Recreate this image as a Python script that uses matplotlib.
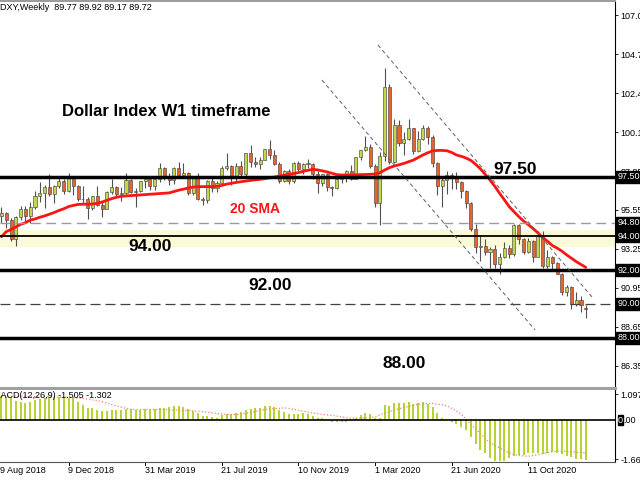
import numpy as np
import matplotlib
matplotlib.use('Agg')
import matplotlib.pyplot as plt
from matplotlib.lines import Line2D
import matplotlib.transforms as mtrans

plt.rcParams['font.family'] = ['Liberation Sans', 'DejaVu Sans']

# ---------------- data (weekly DXY, index 0 = week of 2 Sep 2018) ----------------
opens = [95.17, 95.39, 94.93, 93.84, 95.13, 95.61, 95.21, 95.71, 96.37, 96.53,
         96.91, 96.48, 96.95, 97.27, 96.66, 97.45, 96.96, 96.17, 96.19, 95.64,
         96.36, 95.83, 95.58, 96.63, 96.90, 96.52, 96.53, 97.31, 96.60, 96.66,
         97.28, 97.39, 96.95, 97.36, 98.02, 97.48, 97.33, 98.03, 97.62, 97.75,
         96.53, 97.56, 96.21, 96.13, 97.28, 96.82, 97.15, 98.01, 98.15, 97.50,
         98.15, 97.66, 98.92, 98.40, 98.29, 98.53, 99.13, 98.80, 98.29, 97.28,
         97.83, 97.24, 98.35, 97.98, 98.27, 98.27, 97.67, 97.17, 97.69, 96.91,
         96.84, 97.36, 97.61, 97.87, 97.39, 98.69, 99.09, 99.26, 98.13, 95.97,
         98.75, 102.82, 98.36, 100.58, 99.49, 99.76, 100.37, 99.05, 99.74, 100.39,
         99.86, 98.34, 96.94, 97.33, 97.61, 97.43, 97.18, 96.65, 95.95, 94.44,
         93.35, 93.40, 93.09, 93.23, 92.37, 92.80, 93.33, 92.93, 94.64, 93.84,
         93.06, 93.69, 92.77, 94.04, 92.23, 92.76, 92.39, 91.79, 90.70, 90.98,
         90.02, 90.24, 89.77]
highs = [95.74, 95.45, 95.10, 95.20, 95.78, 95.80, 96.03, 96.67, 97.20, 97.05,
         97.69, 97.05, 97.53, 97.40, 97.71, 97.47, 97.00, 96.95, 96.30, 96.40,
         96.96, 96.04, 96.66, 97.37, 96.95, 96.88, 97.71, 97.39, 96.82, 97.29,
         97.40, 97.49, 97.48, 98.33, 98.08, 97.76, 98.10, 98.37, 98.30, 97.78,
         97.58, 97.71, 96.32, 97.31, 97.58, 97.24, 98.13, 98.93, 98.18, 98.32,
         98.45, 98.93, 99.37, 98.70, 98.71, 99.15, 99.67, 99.12, 98.40, 97.90,
         98.00, 98.39, 98.45, 98.35, 98.55, 98.33, 97.86, 97.70, 97.72, 96.95,
         97.44, 97.67, 97.91, 98.19, 98.69, 99.09, 99.91, 99.45, 98.29, 98.95,
         103.96, 102.99, 100.93, 100.86, 100.18, 100.93, 100.40, 100.20, 100.56, 100.50,
         99.98, 98.36, 97.46, 97.85, 97.75, 97.81, 97.25, 96.74, 96.00, 94.75,
         93.99, 93.81, 93.36, 93.50, 93.00, 93.66, 93.50, 94.74, 94.75, 93.90,
         93.90, 93.76, 94.30, 94.30, 93.21, 92.85, 92.49, 91.84, 91.14, 91.05,
         90.72, 90.48, 89.92]
lows = [94.78, 94.50, 93.70, 93.42, 94.98, 94.87, 94.79, 95.61, 96.00, 95.68,
        96.35, 95.98, 96.86, 96.50, 96.60, 96.42, 96.06, 95.93, 95.03, 95.53,
        95.76, 95.16, 95.58, 96.47, 96.35, 96.07, 96.52, 96.54, 95.74, 96.59,
        96.86, 96.75, 96.75, 97.20, 97.33, 97.03, 97.11, 97.51, 97.59, 96.46,
        96.46, 96.15, 95.84, 95.96, 96.64, 96.64, 97.08, 97.92, 97.05, 97.20,
        97.50, 97.57, 98.07, 98.07, 98.00, 98.48, 98.58, 98.22, 97.12, 97.19,
        97.07, 97.15, 97.80, 97.68, 98.03, 97.37, 96.58, 96.99, 96.66, 96.36,
        96.80, 97.12, 97.22, 97.31, 97.36, 98.50, 99.01, 98.03, 95.73, 94.65,
        98.46, 98.27, 98.31, 99.35, 98.81, 99.66, 98.88, 99.00, 99.70, 99.45,
        98.08, 96.42, 95.71, 96.50, 96.80, 96.80, 96.23, 95.65, 94.33, 92.99,
        92.52, 92.90, 92.13, 92.12, 91.75, 92.70, 92.70, 92.85, 93.54, 92.97,
        92.98, 92.47, 92.75, 92.13, 92.13, 92.03, 91.75, 90.53, 90.47, 89.72,
        89.85, 89.52, 89.17]
closes = [95.39, 94.93, 93.84, 95.13, 95.61, 95.21, 95.71, 96.37, 96.53, 96.91,
          96.48, 96.95, 97.27, 96.66, 97.45, 96.96, 96.17, 96.19, 95.64, 96.36,
          95.83, 95.58, 96.63, 96.90, 96.52, 96.53, 97.31, 96.60, 96.66, 97.28,
          97.39, 96.95, 97.36, 98.02, 97.48, 97.33, 98.03, 97.62, 97.75, 96.53,
          97.56, 96.21, 96.13, 97.28, 96.82, 97.15, 98.01, 98.15, 97.50, 98.15,
          97.66, 98.92, 98.40, 98.29, 98.53, 99.13, 98.80, 98.29, 97.28, 97.83,
          97.24, 98.35, 97.98, 98.27, 98.27, 97.67, 97.17, 97.69, 96.91, 96.84,
          97.36, 97.61, 97.87, 97.39, 98.69, 99.09, 99.26, 98.13, 95.97, 98.75,
          102.82, 98.36, 100.58, 99.49, 99.76, 100.37, 99.05, 99.74, 100.39, 99.86,
          98.34, 96.94, 97.33, 97.61, 97.43, 97.18, 96.65, 95.95, 94.44, 93.35,
          93.40, 93.09, 93.23, 92.37, 92.80, 93.33, 92.93, 94.64, 93.84, 93.06,
          93.69, 92.77, 94.04, 92.23, 92.76, 92.39, 91.79, 90.70, 90.98, 90.02,
          90.24, 89.94, 89.72]
sma20 = [93.97, 94.27, 94.40, 94.55, 94.70, 94.80, 94.95, 95.02, 95.12, 95.20,
         95.30, 95.40, 95.52, 95.62, 95.75, 95.82, 95.88, 95.89, 95.89, 95.90,
         95.95, 96.02, 96.12, 96.22, 96.30, 96.36, 96.38, 96.40, 96.42, 96.44,
         96.46, 96.48, 96.50, 96.52, 96.54, 96.56, 96.64, 96.72, 96.78, 96.85,
         96.90, 96.93, 96.93, 96.93, 96.93, 96.95, 97.00, 97.08, 97.13, 97.18,
         97.22, 97.26, 97.30, 97.33, 97.36, 97.40, 97.45, 97.50, 97.55, 97.60,
         97.65, 97.70, 97.76, 97.83, 97.90, 97.95, 97.92, 97.86, 97.80, 97.72,
         97.64, 97.62, 97.62, 97.62, 97.63, 97.64, 97.65, 97.66, 97.68, 97.75,
         97.91, 98.05, 98.15, 98.22, 98.30, 98.40, 98.50, 98.65, 98.80, 98.93,
         99.04, 99.07, 99.07, 99.05, 98.95, 98.80, 98.72, 98.62, 98.48, 98.25,
         97.98, 97.65, 97.32, 96.95, 96.54, 96.15, 95.75, 95.45, 95.16, 94.90,
         94.68, 94.45, 94.20, 93.92, 93.70, 93.45, 93.30, 93.12, 92.90, 92.70,
         92.50, 92.33, 92.16]
macd_main = [1.02, 0.98, 0.92, 0.81, 0.78, 0.74, 0.78, 0.84, 0.88, 0.92,
             0.95, 0.98, 0.98, 0.95, 0.95, 0.92, 0.78, 0.64, 0.52, 0.50,
             0.41, 0.38, 0.38, 0.41, 0.44, 0.44, 0.47, 0.47, 0.44, 0.45,
             0.47, 0.47, 0.48, 0.52, 0.52, 0.55, 0.58, 0.58, 0.55, 0.48,
             0.38, 0.30, 0.18, 0.18, 0.13, 0.10, 0.20, 0.24, 0.27, 0.30,
             0.33, 0.44, 0.47, 0.50, 0.52, 0.58, 0.58, 0.55, 0.41, 0.35,
             0.27, 0.27, 0.28, 0.30, 0.27, 0.17, 0.08, 0.07, -0.01, -0.07,
             -0.10, -0.09, -0.07, -0.04, 0.07, 0.20, 0.31, 0.28, 0.10, 0.10,
             0.64, 0.60, 0.71, 0.72, 0.72, 0.77, 0.70, 0.71, 0.75, 0.70,
             0.55, 0.30, 0.10, 0.01, -0.09, -0.16, -0.30, -0.44, -0.72, -1.01,
             -1.25, -1.39, -1.60, -1.72, -1.74, -1.72, -1.60, -1.53, -1.46, -1.46,
             -1.40, -1.39, -1.38, -1.43, -1.39, -1.36, -1.38, -1.43, -1.52, -1.57,
             -1.63, -1.66, -1.69]
macd_signal = [1.02, 1.02, 1.01, 1.01, 1.01, 1.00, 1.00, 1.00, 0.99, 0.99,
               0.99, 0.98, 0.98, 0.98, 0.97, 0.96, 0.94, 0.92, 0.89, 0.86,
               0.83, 0.78, 0.72, 0.66, 0.60, 0.55, 0.50, 0.46, 0.45, 0.45,
               0.45, 0.45, 0.45, 0.45, 0.45, 0.44, 0.43, 0.42, 0.41, 0.40,
               0.39, 0.38, 0.36, 0.33, 0.31, 0.28, 0.26, 0.24, 0.24, 0.24,
               0.25, 0.29, 0.33, 0.37, 0.41, 0.45, 0.47, 0.49, 0.50, 0.52,
               0.50, 0.46, 0.42, 0.38, 0.34, 0.30, 0.27, 0.24, 0.22, 0.20,
               0.17, 0.14, 0.11, 0.08, 0.08, 0.09, 0.10, 0.10, 0.14, 0.22,
               0.30, 0.36, 0.42, 0.48, 0.53, 0.58, 0.63, 0.67, 0.69, 0.70,
               0.71, 0.68, 0.65, 0.60, 0.50, 0.38, 0.25, 0.05, -0.18, -0.38,
               -0.58, -0.78, -0.95, -1.08, -1.18, -1.28, -1.38, -1.46, -1.50, -1.52,
               -1.53, -1.50, -1.46, -1.42, -1.38, -1.34, -1.32, -1.32, -1.32, -1.33,
               -1.36, -1.38, -1.40]

date_labels = ['19 Aug 2018', '9 Dec 2018', '31 Mar 2019', '21 Jul 2019',
               '10 Nov 2019', '1 Mar 2020', '21 Jun 2020', '11 Oct 2020']
date_label_idx = [-2, 14, 30, 46, 62, 78, 94, 110]
price_ticks = [107.05, 104.75, 102.45, 100.15, 97.85, 95.55, 93.25, 90.95, 88.65, 86.35]
boxed_levels = [97.50, 94.80, 94.00, 92.00, 90.00, 88.00]
macd_ticks = [1.097, -1.663]
# trend channel: (index, price) endpoints
channel_upper = ([78.6, 123.3], [105.3, 90.41])
channel_lower = ([66.9, 111.4], [103.23, 88.46])

# ---------------- figure ----------------
W, H = 640, 480
fig = plt.figure(figsize=(6.4, 4.8), dpi=100)
fig.patch.set_facecolor('white')


def fx(px):
    return px / W


def fy(py):
    return 1 - py / H


ax = fig.add_axes([0, fy(388), fx(615), fy(1) - fy(388)])
axm = fig.add_axes([0, fy(462), fx(615), fy(389) - fy(462)])

XMIN, XMAX = -0.31, 128.1
for a in (ax, axm):
    a.set_xlim(XMIN, XMAX)
    a.set_facecolor('white')
    a.set_xticks([])
    for s in ('left', 'bottom', 'top'):
        a.spines[s].set_visible(False)
    a.spines['right'].set_color('black')
    a.spines['right'].set_linewidth(0.8)
    a.yaxis.tick_right()
    a.tick_params(axis='y', labelsize=6.5, length=2.5, width=0.6, pad=1.2, colors='black')

ax.spines['top'].set_visible(True)
ax.spines['top'].set_color('#9a9a9a')
ax.spines['top'].set_linewidth(1.4)
axm.spines['bottom'].set_visible(True)
axm.spines['bottom'].set_color('#555555')
axm.spines['bottom'].set_linewidth(0.8)

ax.set_ylim(85.03, 107.90)
ax.set_yticks(price_ticks)
ax.set_yticklabels([f'{p:.2f}' for p in price_ticks])

# band and levels
ax.axhspan(93.35, 94.37, color='#FAFAD6', zorder=0, lw=0)

idx = np.arange(len(closes))
o = np.array(opens[:len(idx)])
c = np.array(closes)
h = np.array(highs[:len(idx)])
l = np.array(lows[:len(idx)])
bull = c >= o
ax.vlines(idx, l, h, color='#505050', lw=0.8, zorder=2)
body_h = np.maximum(np.abs(c - o), 0.04)
ax.bar(idx, body_h, bottom=np.minimum(o, c), width=0.64,
       color=np.where(bull, '#C2D84A', '#E8642C'), edgecolor='#4a4a4a',
       linewidth=0.45, zorder=3)

ax.plot(np.arange(len(sma20)), sma20, color='#FF1414', lw=2.0, zorder=5,
        solid_capstyle='round')

ax.axhline(97.50, color='black', lw=2.5, zorder=6)
ax.axhline(92.00, color='black', lw=2.5, zorder=6)
ax.axhline(88.00, color='black', lw=2.5, zorder=6)
ax.axhline(94.00, color='black', lw=1.3, zorder=6)
ax.axhline(94.80, color='#9a9a9a', lw=1.0, ls=(0, (7, 4)), zorder=6)
ax.axhline(90.00, color='#404040', lw=0.9, ls=(0, (8, 4)), zorder=6)

for xs, ys in (channel_upper, channel_lower):
    ax.plot(xs, ys, color='#606060', lw=0.7, ls=(0, (4, 3)), zorder=6)

# boxed price labels on right axis
btr = mtrans.blended_transform_factory(ax.transAxes, ax.transData)
for p in boxed_levels:
    ax.text(1.0 + 3 / 615, p, f'{p:.2f}', transform=btr, color='white',
            fontsize=6.5, va='center', ha='left', clip_on=False, zorder=10,
            bbox=dict(boxstyle='square,pad=0.18', fc='black', ec='black'))

# chart annotations
fig.text(fx(0), fy(8), 'DXY,Weekly  89.77 89.92 89.17 89.72', fontsize=6.5,
         va='center', ha='left')
fig.text(fx(62), fy(112), 'Dollar Index W1 timeframe', fontsize=12, weight='bold',
         va='center', ha='left')
fig.text(fx(515), fy(169), '97.50', fontsize=12.5, weight='bold', va='center', ha='center')
fig.text(fx(150), fy(247), '94.00', fontsize=12.5, weight='bold', va='center', ha='center')
fig.text(fx(270), fy(285), '92.00', fontsize=12.5, weight='bold', va='center', ha='center')
fig.text(fx(404), fy(363), '88.00', fontsize=12.5, weight='bold', va='center', ha='center')
fig.text(fx(255), fy(209), '20 SMA', fontsize=10, weight='bold', color='#FF1414',
         va='center', ha='center')

# separator between panels
fig.add_artist(Line2D([0, fx(615)], [fy(388), fy(388)], color='#a0a0a0', lw=2.2))

# ---------------- MACD panel ----------------
axm.set_ylim(-1.776, 1.32)
axm.bar(np.arange(len(macd_main)), macd_main, width=0.42, color='#B5D334', zorder=2)
axm.plot(np.arange(len(macd_signal)), macd_signal, color='#F4856A', lw=0.9,
         ls=(0, (1, 1.6)), zorder=3)
axm.axhline(0, color='black', lw=1.2, zorder=4)
axm.set_yticks(macd_ticks)
axm.set_yticklabels(['1.097', '-1.663'])
btm = mtrans.blended_transform_factory(axm.transAxes, axm.transData)
axm.text(1.0 + 3 / 615, 0, '0', transform=btm, color='white', fontsize=6.5,
         va='center', ha='left', clip_on=False, zorder=10,
         bbox=dict(boxstyle='square,pad=0.05', fc='black', ec='black'))
axm.text(1.0 + 8.5 / 615, 0, '.00', transform=btm, color='black', fontsize=6.5,
         va='center', ha='left', clip_on=False, zorder=11)
fig.text(fx(-7), fy(396), 'MACD(12,26,9) -1.505 -1.302', fontsize=6.5,
         va='center', ha='left')

# date labels and ticks
bxt = mtrans.blended_transform_factory(axm.transData, axm.transAxes)
for pos, lab in zip(date_label_idx, date_labels):
    axm.plot([pos, pos], [0, -0.045], transform=bxt, color='black', lw=0.7,
             clip_on=False)
    xpos = pos - 0.1 if pos >= 0 else pos + 0.7
    axm.text(xpos, -0.12, lab, transform=bxt, fontsize=6.5, ha='left',
             va='center', clip_on=False)

fig.savefig('out.png', dpi=100, facecolor='white')
